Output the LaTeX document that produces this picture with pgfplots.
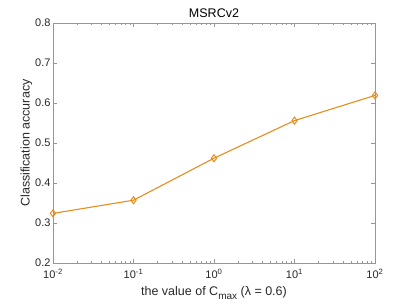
\documentclass[border=0pt]{standalone}
\usepackage{pgfplots}
\pgfplotsset{compat=1.18}
\usepackage{fontspec}
\setmainfont{Liberation Sans}
\definecolor{lineorange}{RGB}{232,140,28}
\definecolor{axgray}{RGB}{150,150,150}
\definecolor{txtgray}{RGB}{40,40,40}
\begin{document}
\begin{tikzpicture}
\useasboundingbox (-53pt,-42pt) rectangle (362pt,263pt);
\begin{axis}[
  at={(0,0)}, anchor=south west,
  scale only axis, width=322pt, height=240pt,
  xmode=log, xmin=0.01, xmax=100,
  ymin=0.2, ymax=0.8,
  xtick={0.01,0.1,1,10,100},
  xticklabels={10\textsuperscript{-2},10\textsuperscript{-1},10\textsuperscript{0},10\textsuperscript{1},10\textsuperscript{2}},
  ytick={0.2,0.3,0.4,0.5,0.6,0.7,0.8},
  yticklabel style={/pgf/number format/fixed,/pgf/number format/precision=1,/pgf/number format/fixed zerofill},
  /pgf/number format/assume math mode=true,
  tick align=inside,
  major tick length=4pt, minor tick length=2pt,
  axis line style={axgray, line width=0.6pt},
  every tick/.style={axgray, line width=0.5pt},
  tick label style={font=\fontsize{11}{13}\selectfont, text=txtgray},
  label style={font=\fontsize{12.5}{14}\selectfont, text=txtgray},
  title style={font=\fontsize{12.5}{14}\selectfont, text=black, yshift=-4pt},
  title={MSRCv2},
  xlabel={the value of C\raisebox{-0.55ex}{\fontsize{10}{12}\selectfont max} (λ = 0.6)},
  ylabel={Classification accuracy},
  xlabel style={yshift=-1pt},
  ylabel style={yshift=-4pt},
  yticklabel style={xshift=1pt},
  xticklabel style={yshift=-3pt},
]
\addplot[color=lineorange, line width=1.1pt, mark=diamond, mark size=3.5pt, mark options={line width=1.0pt}]
  coordinates {(0.01,0.324) (0.1,0.357) (1,0.462) (10,0.556) (100,0.619)};
\end{axis}
\end{tikzpicture}
\end{document}
